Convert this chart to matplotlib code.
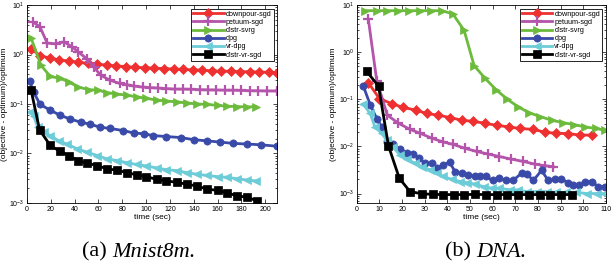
import matplotlib
matplotlib.use('Agg')
import matplotlib.pyplot as plt
from matplotlib.ticker import LogLocator, NullFormatter

plt.rcParams['font.family'] = ['Liberation Sans', 'DejaVu Sans']

NAMES = ['downpour-sgd', 'petuum-sgd', 'distr-svrg', 'dpg', 'vr-dpg', 'distr-vr-sgd']
COLORS = ['#ee3030', '#b454aa', '#6cbb3c', '#3a4aa8', '#6cccd8', '#000000']
MARKERS = ['D', '+', '>', 'o', '<', 's']

# ---- (a) Mnist8m ----
A_DOWN_X = [3.5, 11, 19, 27, 35, 43, 51, 59, 67, 75, 83, 91, 99, 107, 115, 123, 131, 139, 147, 155, 163, 171, 179, 187, 195, 203, 210]
A_DOWN_Y = [1.3, 0.95, 0.85, 0.78, 0.74, 0.7, 0.66, 0.64, 0.61, 0.59, 0.57, 0.55, 0.54, 0.53, 0.52, 0.51, 0.5, 0.49, 0.48, 0.47, 0.46, 0.46, 0.45, 0.45, 0.44, 0.44, 0.43]
A_PET_X = [5, 11, 17, 24, 31, 38, 43, 50, 56, 62, 70, 78, 84, 90, 97, 103, 110, 117, 124, 131, 138, 145, 152, 159, 166, 173, 180, 187, 194, 201, 210]
A_PET_Y = [4.6, 3.6, 1.7, 1.65, 1.8, 1.43, 1.13, 0.83, 0.56, 0.38, 0.3, 0.26, 0.245, 0.23, 0.22, 0.215, 0.21, 0.205, 0.2, 0.2, 0.198, 0.195, 0.193, 0.192, 0.19, 0.19, 0.188, 0.186, 0.185, 0.184, 0.183]
A_SVRG_X = [3.4, 11.7, 19.6, 28, 35, 43, 52, 60, 67, 75, 84, 92, 100, 109, 117, 126, 134, 143, 151, 160, 168, 176, 185, 192]
A_SVRG_Y = [2.2, 0.61, 0.36, 0.33, 0.28, 0.22, 0.195, 0.19, 0.17, 0.16, 0.15, 0.14, 0.13, 0.12, 0.115, 0.11, 0.105, 0.1, 0.098, 0.094, 0.09, 0.089, 0.087, 0.089]
A_DPG_X = [2.2, 5.6, 11, 19.6, 28, 36, 45, 53, 61.5, 70, 81, 89.5, 98, 106, 117, 129, 140, 151, 162, 173, 185, 196, 210]
A_DPG_Y = [0.29, 0.175, 0.098, 0.075, 0.059, 0.05, 0.043, 0.039, 0.034, 0.032, 0.029, 0.026, 0.025, 0.023, 0.022, 0.021, 0.019, 0.018, 0.017, 0.016, 0.0155, 0.015, 0.014]
A_VRDPG_X = [2.2, 5.6, 9, 14, 19.6, 26.6, 33.6, 42, 50, 59, 67, 75.5, 84, 92, 100, 109, 117, 126, 134, 143, 151, 160, 168, 176, 185, 192]
A_VRDPG_Y = [0.069, 0.058, 0.034, 0.027, 0.023, 0.018, 0.0155, 0.0125, 0.0107, 0.0091, 0.0078, 0.0072, 0.0065, 0.006, 0.0056, 0.0051, 0.0047, 0.0045, 0.0041, 0.0038, 0.0036, 0.0034, 0.0033, 0.0031, 0.0029, 0.0028]
A_VRSGD_X = [3.4, 10.6, 19.6, 28, 35, 43, 50, 59, 67, 75.5, 84, 92, 100, 109, 117, 126, 134, 143, 151, 160, 168, 176, 185, 193]
A_VRSGD_Y = [0.195, 0.03, 0.0145, 0.011, 0.0091, 0.0072, 0.0064, 0.0057, 0.0049, 0.0046, 0.0041, 0.0037, 0.0034, 0.003, 0.0028, 0.0026, 0.0024, 0.0022, 0.0019, 0.0018, 0.0016, 0.0014, 0.0013, 0.0011]

# ---- (b) DNA ----
B_DOWN_X = [5.1, 10, 15.4, 20.6, 26, 30.9, 36, 41.2, 46.3, 51.5, 56.6, 61.8, 67, 72, 78, 83, 88, 93.4, 98.5, 103.7]
B_DOWN_Y = [0.225, 0.103, 0.081, 0.067, 0.059, 0.05, 0.046, 0.041, 0.036, 0.034, 0.031, 0.028, 0.026, 0.024, 0.023, 0.02, 0.019, 0.0187, 0.0174, 0.0174]
B_PET_X = [5.1, 8.8, 13.5, 18.4, 23.5, 28, 33, 38, 42.6, 47.8, 53, 58, 63, 68, 73.5, 78.7, 83, 86.8]
B_PET_Y = [5.0, 0.25, 0.046, 0.031, 0.023, 0.019, 0.015, 0.0125, 0.011, 0.0091, 0.0078, 0.0069, 0.0061, 0.0054, 0.0048, 0.0042, 0.0039, 0.0037]
B_SVRG_X = [3.7, 8.8, 13.5, 18.4, 23.2, 27.9, 32.6, 37.5, 42.4, 47.4, 51.8, 56.6, 61.5, 66.5, 71.3, 76, 81, 86, 91, 96, 100.7, 105.6, 109.6]
B_SVRG_Y = [7.6, 7.6, 7.6, 7.6, 7.6, 7.6, 7.6, 7.6, 6.5, 2.9, 0.52, 0.28, 0.16, 0.1, 0.069, 0.052, 0.043, 0.036, 0.032, 0.029, 0.026, 0.024, 0.022]
B_DPG_X = [2.9, 5.9, 8.8, 11, 13.5, 16, 19, 22, 25, 27.6, 30, 33, 35.6, 38.2, 41, 43.4, 46.3, 49, 52, 54.4, 57, 60, 63, 66, 69, 72.8, 75, 78, 81.6, 84.5, 87.5, 90.4, 93.4, 95.6, 98.2, 100.7, 103.7, 106.6, 109.6]
B_DPG_Y = [0.19, 0.077, 0.039, 0.026, 0.0125, 0.011, 0.0087, 0.0074, 0.007, 0.0056, 0.0044, 0.0044, 0.0034, 0.0041, 0.0046, 0.0029, 0.0027, 0.0025, 0.0023, 0.0023, 0.0023, 0.0019, 0.0021, 0.0019, 0.0019, 0.0027, 0.0026, 0.0019, 0.0031, 0.0019, 0.002, 0.002, 0.0017, 0.0015, 0.0015, 0.0018, 0.0018, 0.0014, 0.0014]
B_VRDPG_X = [2.9, 5.9, 8, 11, 13.2, 16, 19, 22, 25.7, 28.7, 32.4, 35.3, 38.2, 42, 45.6, 48.5, 52, 56, 59.6, 63, 67.6, 71.3, 75, 79.4, 83.8, 88, 92.6, 97, 101.5, 106, 109.6]
B_VRDPG_Y = [0.078, 0.05, 0.026, 0.019, 0.0135, 0.0098, 0.0066, 0.0054, 0.0044, 0.0037, 0.0032, 0.0027, 0.0023, 0.002, 0.0018, 0.0017, 0.0016, 0.0014, 0.0013, 0.0013, 0.0012, 0.0012, 0.0011, 0.0011, 0.0011, 0.00106, 0.00106, 0.00106, 0.001, 0.001, 0.001]
B_VRSGD_X = [4.4, 9.6, 14, 18.8, 23.5, 28.7, 33.5, 38.2, 42.8, 47.5, 52.3, 57, 61.8, 66.5, 71.3, 76, 80.8, 85.5, 90.3, 95]
B_VRSGD_Y = [0.39, 0.19, 0.0102, 0.0021, 0.0011, 0.00099, 0.00096, 0.00095, 0.00095, 0.00095, 0.00096, 0.00095, 0.00095, 0.00095, 0.00095, 0.00095, 0.00095, 0.00095, 0.00095, 0.00095]

PANEL_A = [(A_DOWN_X, A_DOWN_Y), (A_PET_X, A_PET_Y), (A_SVRG_X, A_SVRG_Y),
           (A_DPG_X, A_DPG_Y), (A_VRDPG_X, A_VRDPG_Y), (A_VRSGD_X, A_VRSGD_Y)]
PANEL_B = [(B_DOWN_X, B_DOWN_Y), (B_PET_X, B_PET_Y), (B_SVRG_X, B_SVRG_Y),
           (B_DPG_X, B_DPG_Y), (B_VRDPG_X, B_VRDPG_Y), (B_VRSGD_X, B_VRSGD_Y)]

fig = plt.figure(figsize=(6.12, 2.66), dpi=100)
axA = fig.add_axes([0.044, 0.237, 0.409, 0.744])
axB = fig.add_axes([0.583, 0.237, 0.407, 0.744])


def draw(ax, panel, xmax, xticks, ymin):
    for (x, y), name, c, m in zip(panel, NAMES, COLORS, MARKERS):
        ms = 6.5 if m == '+' else 5.2
        ax.plot(x, y, color=c, marker=m, markersize=ms, markeredgecolor=c,
                markeredgewidth=1.6 if m == '+' else 0.5, linewidth=2, label=name)
    ax.set_yscale('log')
    ax.set_xlim(0, xmax)
    ax.set_ylim(ymin, 10)
    ax.set_xticks(xticks)
    ax.yaxis.set_major_locator(LogLocator(base=10, numticks=10))
    ax.yaxis.set_minor_locator(LogLocator(base=10, subs=range(2, 10), numticks=20))
    ax.yaxis.set_minor_formatter(NullFormatter())
    ax.tick_params(which='both', direction='in', top=True, right=True, labelsize=5, pad=2)
    ax.tick_params(which='major', length=3, width=0.5)
    ax.tick_params(which='minor', length=1.5, width=0.5)
    for s in ax.spines.values():
        s.set_linewidth(0.6)
    ax.set_xlabel('time (sec)', fontsize=6, labelpad=1)
    ax.set_ylabel('(objective - optimum)/optimum', fontsize=6, labelpad=1)
    leg = ax.legend(loc='upper right', fontsize=5.2, handlelength=4.2, borderpad=0.3,
                    labelspacing=0.15, handletextpad=0.3, fancybox=False, framealpha=1,
                    borderaxespad=0.5)
    leg.get_frame().set_edgecolor('black')
    leg.get_frame().set_linewidth(0.6)


draw(axA, PANEL_A, 210, range(0, 201, 20), 1e-3)
draw(axB, PANEL_B, 110, range(0, 111, 10), 10 ** -3.2)

serif = 'Liberation Serif'
fig.text(0.184, 0.052, '(a) ', fontsize=16, family=serif, ha='right', va='center')
fig.text(0.184, 0.052, 'Mnist8m.', fontsize=16, family=serif, style='italic',
         ha='left', va='center')
fig.text(0.778, 0.052, '(b) ', fontsize=16, family=serif, ha='right', va='center')
fig.text(0.778, 0.052, 'DNA.', fontsize=16, family=serif, style='italic',
         ha='left', va='center')

fig.savefig('out.png', dpi=100)
